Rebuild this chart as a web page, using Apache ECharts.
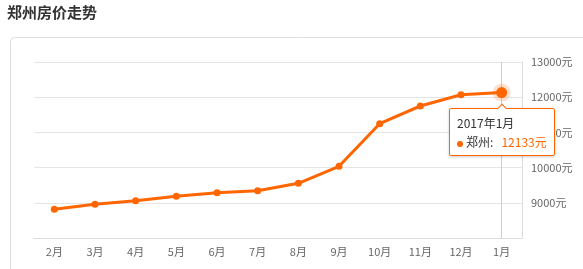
<!DOCTYPE html>
<html><head><meta charset="utf-8">
<script src="https://cdn.jsdelivr.net/npm/echarts@6/dist/echarts.min.js"></script>
<style>html,body{margin:0;padding:0;background:#fff;}#c{width:583px;height:269px;}</style>
</head><body><div id="c"></div>
<script>
var titleText = '郑州房价走势';
var seriesName = '郑州';
var categories = ['2月','3月','4月','5月','6月','7月','8月','9月','10月','11月','12月','1月'];
var prices = [8815, 8957, 9060, 9185, 9287, 9344, 9554, 10037, 11247, 11750, 12071, 12133];
var tipLabel = '2017年1月';
var yMin = 8000, yMax = 13000, yStep = 1000;

var lastIdx = prices.length - 1;
var lineData = prices.map(function(v, i){
  return i === lastIdx ? {value: v, symbolSize: 11} : v;
});
var chart = echarts.init(document.getElementById('c'));
chart.setOption({
  animation: false,
  textStyle: {fontFamily: '"Noto Sans CJK SC", "Noto Sans", sans-serif'},
  title: {text: titleText, left: 2, top: 0, textStyle: {fontSize: 15, fontWeight: 'bold', color: '#333'}},
  graphic: [{type: 'rect', left: 8, top: 35, shape: {width: 640, height: 300, r: 4}, style: {fill: 'none', stroke: '#dedede', lineWidth: 1}, silent: true}],
  grid: {left: 34, right: 61, top: 62, bottom: 31},
  tooltip: {
    trigger: 'item', alwaysShowContent: true, position: 'bottom',
    backgroundColor: '#fff', borderColor: '#ff6600', borderWidth: 1, padding: [4, 7],
    textStyle: {color: '#333', fontSize: 12},
    extraCssText: 'box-shadow:0 1px 3px rgba(0,0,0,0.2);border-radius:2px;line-height:19px;',
    formatter: function(p){
      return tipLabel + '<br/><span style="display:inline-block;width:6px;height:6px;border-radius:3px;background:#ff6600;margin-right:3px;vertical-align:middle"></span>' +
        seriesName + ':&nbsp;&nbsp;&nbsp;<span style="color:#ff6600">' + prices[p.dataIndex] + '元</span>';
    }
  },
  xAxis: {
    type: 'category', data: categories, boundaryGap: true,
    axisLine: {lineStyle: {color: '#dcdcdc'}},
    axisTick: {alignWithLabel: true, length: 4, lineStyle: {color: '#dcdcdc'}},
    axisLabel: {color: '#666', fontSize: 11, margin: 8}
  },
  yAxis: {
    type: 'value', position: 'right', min: yMin, max: yMax, interval: yStep,
    axisLine: {show: true, lineStyle: {color: '#dcdcdc'}},
    axisTick: {show: false},
    axisLabel: {color: '#666', fontSize: 11, margin: 9, showMinLabel: false, formatter: function(v){ return v + '元'; }},
    splitLine: {lineStyle: {color: '#e5e5e5'}}
  },
  series: [
    {type: 'scatter', data: [[categories[lastIdx], prices[lastIdx]]], symbolSize: 18, itemStyle: {color: 'rgba(255,102,0,0.25)'}, silent: true, tooltip: {show: false}, z: 1,
     markLine: {silent: true, z: 0, symbol: 'none', label: {show: false}, lineStyle: {color: '#cfcfcf', type: 'solid', width: 1}, data: [{xAxis: categories[lastIdx]}]}},
    {type: 'line', name: seriesName, data: lineData, symbol: 'circle', symbolSize: 7,
     emphasis: {scale: false},
     lineStyle: {color: '#ff6600', width: 3}, itemStyle: {color: '#ff6600'}, z: 3}
  ]
});
chart.dispatchAction({type: 'showTip', seriesIndex: 1, dataIndex: lastIdx});
</script></body></html>
